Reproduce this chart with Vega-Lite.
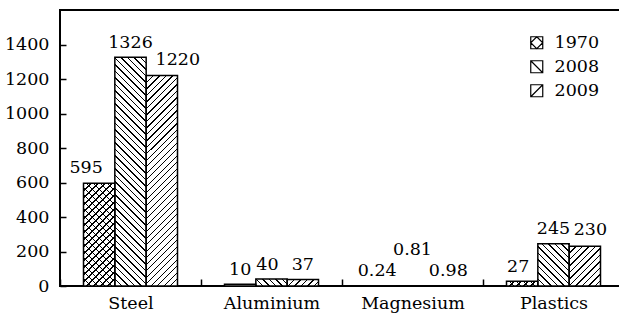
{
"$schema":"https://vega.github.io/schema/vega-lite/v6.json",
"width":564,"height":276,
"autosize":{"type":"none"},
"padding":{"left":60,"top":10,"right":0,"bottom":28},
"background":"white",
"config":{"view":{"stroke":"black","strokeWidth":2},"font":"'DejaVu Serif', 'Liberation Serif', 'Times New Roman', serif"},
"data":{"values":[
{"cat":"Steel","year":"1970","value":595},
{"cat":"Steel","year":"2008","value":1326},
{"cat":"Steel","year":"2009","value":1220},
{"cat":"Aluminium","year":"1970","value":10},
{"cat":"Aluminium","year":"2008","value":40},
{"cat":"Aluminium","year":"2009","value":37},
{"cat":"Magnesium","year":"1970","value":0.24},
{"cat":"Magnesium","year":"2008","value":0.81},
{"cat":"Magnesium","year":"2009","value":0.98},
{"cat":"Plastics","year":"1970","value":27},
{"cat":"Plastics","year":"2008","value":245},
{"cat":"Plastics","year":"2009","value":230}
]},
"encoding":{
"x":{"field":"cat","type":"nominal","sort":["Steel","Aluminium","Magnesium","Plastics"],"scale":{"paddingInner":0,"paddingOuter":0},
"axis":{"title":null,"domain":false,"labelAngle":0,"tickBand":"extent","tickSize":-7,"tickWidth":1.5,"tickColor":"black","labelPadding":15,"labelFont":"'DejaVu Serif', 'Liberation Serif', 'Times New Roman', serif","labelFontSize":17.5,"labelColor":"black"}},
"xOffset":{"field":"year","type":"nominal","scale":{"domain":["1970","2008","2009"],"paddingInner":0,"paddingOuter":0.75}},
"y":{"field":"value","type":"quantitative","scale":{"domain":[0,1600],"nice":false},
"axis":{"title":null,"grid":false,"domain":false,"format":"d","values":[0,200,400,600,800,1000,1200,1400],"tickSize":-6,"tickWidth":1.5,"tickColor":"black","labelPadding":17,"labelFont":"'DejaVu Serif', 'Liberation Serif', 'Times New Roman', serif","labelFontSize":17.5,"labelColor":"black"}}
},
"layer":[
{"mark":{"type":"bar","fill":"white"}},
{"transform":[{"filter":"datum.cat=='Steel' && datum.year=='2008'"}],
"mark":{"type":"bar","fill":{"gradient":"linear","x1":0,"y1":1,"x2":0.1529,"y2":-0.1159,"stops":[
{"offset":0,"color":"#000"},{"offset":0.005,"color":"#000"},{"offset":0.005,"color":"#fff"},{"offset":0.025,"color":"#fff"},
{"offset":0.025,"color":"#000"},{"offset":0.03,"color":"#000"},{"offset":0.03,"color":"#fff"},{"offset":0.05,"color":"#fff"},
{"offset":0.05,"color":"#000"},{"offset":0.055,"color":"#000"},{"offset":0.055,"color":"#fff"},{"offset":0.075,"color":"#fff"},
{"offset":0.075,"color":"#000"},{"offset":0.08,"color":"#000"},{"offset":0.08,"color":"#fff"},{"offset":0.1,"color":"#fff"},
{"offset":0.1,"color":"#000"},{"offset":0.105,"color":"#000"},{"offset":0.105,"color":"#fff"},{"offset":0.125,"color":"#fff"},
{"offset":0.125,"color":"#000"},{"offset":0.13,"color":"#000"},{"offset":0.13,"color":"#fff"},{"offset":0.15,"color":"#fff"},
{"offset":0.15,"color":"#000"},{"offset":0.155,"color":"#000"},{"offset":0.155,"color":"#fff"},{"offset":0.175,"color":"#fff"},
{"offset":0.175,"color":"#000"},{"offset":0.18,"color":"#000"},{"offset":0.18,"color":"#fff"},{"offset":0.2,"color":"#fff"},
{"offset":0.2,"color":"#000"},{"offset":0.205,"color":"#000"},{"offset":0.205,"color":"#fff"},{"offset":0.225,"color":"#fff"},
{"offset":0.225,"color":"#000"},{"offset":0.23,"color":"#000"},{"offset":0.23,"color":"#fff"},{"offset":0.25,"color":"#fff"},
{"offset":0.25,"color":"#000"},{"offset":0.255,"color":"#000"},{"offset":0.255,"color":"#fff"},{"offset":0.275,"color":"#fff"},
{"offset":0.275,"color":"#000"},{"offset":0.28,"color":"#000"},{"offset":0.28,"color":"#fff"},{"offset":0.3,"color":"#fff"},
{"offset":0.3,"color":"#000"},{"offset":0.305,"color":"#000"},{"offset":0.305,"color":"#fff"},{"offset":0.325,"color":"#fff"},
{"offset":0.325,"color":"#000"},{"offset":0.33,"color":"#000"},{"offset":0.33,"color":"#fff"},{"offset":0.35,"color":"#fff"},
{"offset":0.35,"color":"#000"},{"offset":0.355,"color":"#000"},{"offset":0.355,"color":"#fff"},{"offset":0.375,"color":"#fff"},
{"offset":0.375,"color":"#000"},{"offset":0.38,"color":"#000"},{"offset":0.38,"color":"#fff"},{"offset":0.4,"color":"#fff"},
{"offset":0.4,"color":"#000"},{"offset":0.405,"color":"#000"},{"offset":0.405,"color":"#fff"},{"offset":0.425,"color":"#fff"},
{"offset":0.425,"color":"#000"},{"offset":0.43,"color":"#000"},{"offset":0.43,"color":"#fff"},{"offset":0.45,"color":"#fff"},
{"offset":0.45,"color":"#000"},{"offset":0.455,"color":"#000"},{"offset":0.455,"color":"#fff"},{"offset":0.475,"color":"#fff"},
{"offset":0.475,"color":"#000"},{"offset":0.48,"color":"#000"},{"offset":0.48,"color":"#fff"},{"offset":0.5,"color":"#fff"},
{"offset":0.5,"color":"#000"},{"offset":0.505,"color":"#000"},{"offset":0.505,"color":"#fff"},{"offset":0.525,"color":"#fff"},
{"offset":0.525,"color":"#000"},{"offset":0.53,"color":"#000"},{"offset":0.53,"color":"#fff"},{"offset":0.55,"color":"#fff"},
{"offset":0.55,"color":"#000"},{"offset":0.555,"color":"#000"},{"offset":0.555,"color":"#fff"},{"offset":0.575,"color":"#fff"},
{"offset":0.575,"color":"#000"},{"offset":0.58,"color":"#000"},{"offset":0.58,"color":"#fff"},{"offset":0.6,"color":"#fff"},
{"offset":0.6,"color":"#000"},{"offset":0.605,"color":"#000"},{"offset":0.605,"color":"#fff"},{"offset":0.625,"color":"#fff"},
{"offset":0.625,"color":"#000"},{"offset":0.63,"color":"#000"},{"offset":0.63,"color":"#fff"},{"offset":0.65,"color":"#fff"},
{"offset":0.65,"color":"#000"},{"offset":0.655,"color":"#000"},{"offset":0.655,"color":"#fff"},{"offset":0.675,"color":"#fff"},
{"offset":0.675,"color":"#000"},{"offset":0.68,"color":"#000"},{"offset":0.68,"color":"#fff"},{"offset":0.7,"color":"#fff"},
{"offset":0.7,"color":"#000"},{"offset":0.705,"color":"#000"},{"offset":0.705,"color":"#fff"},{"offset":0.725,"color":"#fff"},
{"offset":0.725,"color":"#000"},{"offset":0.73,"color":"#000"},{"offset":0.73,"color":"#fff"},{"offset":0.75,"color":"#fff"},
{"offset":0.75,"color":"#000"},{"offset":0.755,"color":"#000"},{"offset":0.755,"color":"#fff"},{"offset":0.775,"color":"#fff"},
{"offset":0.775,"color":"#000"},{"offset":0.78,"color":"#000"},{"offset":0.78,"color":"#fff"},{"offset":0.8,"color":"#fff"},
{"offset":0.8,"color":"#000"},{"offset":0.805,"color":"#000"},{"offset":0.805,"color":"#fff"},{"offset":0.825,"color":"#fff"},
{"offset":0.825,"color":"#000"},{"offset":0.83,"color":"#000"},{"offset":0.83,"color":"#fff"},{"offset":0.85,"color":"#fff"},
{"offset":0.85,"color":"#000"},{"offset":0.855,"color":"#000"},{"offset":0.855,"color":"#fff"},{"offset":0.875,"color":"#fff"},
{"offset":0.875,"color":"#000"},{"offset":0.88,"color":"#000"},{"offset":0.88,"color":"#fff"},{"offset":0.9,"color":"#fff"},
{"offset":0.9,"color":"#000"},{"offset":0.905,"color":"#000"},{"offset":0.905,"color":"#fff"},{"offset":0.925,"color":"#fff"},
{"offset":0.925,"color":"#000"},{"offset":0.93,"color":"#000"},{"offset":0.93,"color":"#fff"},{"offset":0.95,"color":"#fff"},
{"offset":0.95,"color":"#000"},{"offset":0.955,"color":"#000"},{"offset":0.955,"color":"#fff"},{"offset":0.975,"color":"#fff"},
{"offset":0.975,"color":"#000"},{"offset":0.98,"color":"#000"},{"offset":0.98,"color":"#fff"},{"offset":1,"color":"#fff"}
]}}},
{"transform":[{"filter":"datum.cat=='Steel' && datum.year=='2009'"}],
"mark":{"type":"bar","fill":{"gradient":"linear","x1":0,"y1":0,"x2":0.1799,"y2":1.2084,"stops":[
{"offset":0,"color":"#000"},{"offset":0.005,"color":"#000"},{"offset":0.005,"color":"#fff"},{"offset":0.025,"color":"#fff"},
{"offset":0.025,"color":"#000"},{"offset":0.03,"color":"#000"},{"offset":0.03,"color":"#fff"},{"offset":0.05,"color":"#fff"},
{"offset":0.05,"color":"#000"},{"offset":0.055,"color":"#000"},{"offset":0.055,"color":"#fff"},{"offset":0.075,"color":"#fff"},
{"offset":0.075,"color":"#000"},{"offset":0.08,"color":"#000"},{"offset":0.08,"color":"#fff"},{"offset":0.1,"color":"#fff"},
{"offset":0.1,"color":"#000"},{"offset":0.105,"color":"#000"},{"offset":0.105,"color":"#fff"},{"offset":0.125,"color":"#fff"},
{"offset":0.125,"color":"#000"},{"offset":0.13,"color":"#000"},{"offset":0.13,"color":"#fff"},{"offset":0.15,"color":"#fff"},
{"offset":0.15,"color":"#000"},{"offset":0.155,"color":"#000"},{"offset":0.155,"color":"#fff"},{"offset":0.175,"color":"#fff"},
{"offset":0.175,"color":"#000"},{"offset":0.18,"color":"#000"},{"offset":0.18,"color":"#fff"},{"offset":0.2,"color":"#fff"},
{"offset":0.2,"color":"#000"},{"offset":0.205,"color":"#000"},{"offset":0.205,"color":"#fff"},{"offset":0.225,"color":"#fff"},
{"offset":0.225,"color":"#000"},{"offset":0.23,"color":"#000"},{"offset":0.23,"color":"#fff"},{"offset":0.25,"color":"#fff"},
{"offset":0.25,"color":"#000"},{"offset":0.255,"color":"#000"},{"offset":0.255,"color":"#fff"},{"offset":0.275,"color":"#fff"},
{"offset":0.275,"color":"#000"},{"offset":0.28,"color":"#000"},{"offset":0.28,"color":"#fff"},{"offset":0.3,"color":"#fff"},
{"offset":0.3,"color":"#000"},{"offset":0.305,"color":"#000"},{"offset":0.305,"color":"#fff"},{"offset":0.325,"color":"#fff"},
{"offset":0.325,"color":"#000"},{"offset":0.33,"color":"#000"},{"offset":0.33,"color":"#fff"},{"offset":0.35,"color":"#fff"},
{"offset":0.35,"color":"#000"},{"offset":0.355,"color":"#000"},{"offset":0.355,"color":"#fff"},{"offset":0.375,"color":"#fff"},
{"offset":0.375,"color":"#000"},{"offset":0.38,"color":"#000"},{"offset":0.38,"color":"#fff"},{"offset":0.4,"color":"#fff"},
{"offset":0.4,"color":"#000"},{"offset":0.405,"color":"#000"},{"offset":0.405,"color":"#fff"},{"offset":0.425,"color":"#fff"},
{"offset":0.425,"color":"#000"},{"offset":0.43,"color":"#000"},{"offset":0.43,"color":"#fff"},{"offset":0.45,"color":"#fff"},
{"offset":0.45,"color":"#000"},{"offset":0.455,"color":"#000"},{"offset":0.455,"color":"#fff"},{"offset":0.475,"color":"#fff"},
{"offset":0.475,"color":"#000"},{"offset":0.48,"color":"#000"},{"offset":0.48,"color":"#fff"},{"offset":0.5,"color":"#fff"},
{"offset":0.5,"color":"#000"},{"offset":0.505,"color":"#000"},{"offset":0.505,"color":"#fff"},{"offset":0.525,"color":"#fff"},
{"offset":0.525,"color":"#000"},{"offset":0.53,"color":"#000"},{"offset":0.53,"color":"#fff"},{"offset":0.55,"color":"#fff"},
{"offset":0.55,"color":"#000"},{"offset":0.555,"color":"#000"},{"offset":0.555,"color":"#fff"},{"offset":0.575,"color":"#fff"},
{"offset":0.575,"color":"#000"},{"offset":0.58,"color":"#000"},{"offset":0.58,"color":"#fff"},{"offset":0.6,"color":"#fff"},
{"offset":0.6,"color":"#000"},{"offset":0.605,"color":"#000"},{"offset":0.605,"color":"#fff"},{"offset":0.625,"color":"#fff"},
{"offset":0.625,"color":"#000"},{"offset":0.63,"color":"#000"},{"offset":0.63,"color":"#fff"},{"offset":0.65,"color":"#fff"},
{"offset":0.65,"color":"#000"},{"offset":0.655,"color":"#000"},{"offset":0.655,"color":"#fff"},{"offset":0.675,"color":"#fff"},
{"offset":0.675,"color":"#000"},{"offset":0.68,"color":"#000"},{"offset":0.68,"color":"#fff"},{"offset":0.7,"color":"#fff"},
{"offset":0.7,"color":"#000"},{"offset":0.705,"color":"#000"},{"offset":0.705,"color":"#fff"},{"offset":0.725,"color":"#fff"},
{"offset":0.725,"color":"#000"},{"offset":0.73,"color":"#000"},{"offset":0.73,"color":"#fff"},{"offset":0.75,"color":"#fff"},
{"offset":0.75,"color":"#000"},{"offset":0.755,"color":"#000"},{"offset":0.755,"color":"#fff"},{"offset":0.775,"color":"#fff"},
{"offset":0.775,"color":"#000"},{"offset":0.78,"color":"#000"},{"offset":0.78,"color":"#fff"},{"offset":0.8,"color":"#fff"},
{"offset":0.8,"color":"#000"},{"offset":0.805,"color":"#000"},{"offset":0.805,"color":"#fff"},{"offset":0.825,"color":"#fff"},
{"offset":0.825,"color":"#000"},{"offset":0.83,"color":"#000"},{"offset":0.83,"color":"#fff"},{"offset":0.85,"color":"#fff"},
{"offset":0.85,"color":"#000"},{"offset":0.855,"color":"#000"},{"offset":0.855,"color":"#fff"},{"offset":0.875,"color":"#fff"},
{"offset":0.875,"color":"#000"},{"offset":0.88,"color":"#000"},{"offset":0.88,"color":"#fff"},{"offset":0.9,"color":"#fff"},
{"offset":0.9,"color":"#000"},{"offset":0.905,"color":"#000"},{"offset":0.905,"color":"#fff"},{"offset":0.925,"color":"#fff"},
{"offset":0.925,"color":"#000"},{"offset":0.93,"color":"#000"},{"offset":0.93,"color":"#fff"},{"offset":0.95,"color":"#fff"}
]}}},
{"transform":[{"filter":"datum.cat=='Steel' && datum.year=='1970'"}],
"mark":{"type":"bar","fill":{"gradient":"linear","x1":0,"y1":1,"x2":0.7623,"y2":-1.4963,"stops":[
{"offset":0,"color":"#000"},{"offset":0.005,"color":"#000"},{"offset":0.005,"color":"#0000"},{"offset":0.025,"color":"#0000"},
{"offset":0.025,"color":"#000"},{"offset":0.03,"color":"#000"},{"offset":0.03,"color":"#0000"},{"offset":0.05,"color":"#0000"},
{"offset":0.05,"color":"#000"},{"offset":0.055,"color":"#000"},{"offset":0.055,"color":"#0000"},{"offset":0.075,"color":"#0000"},
{"offset":0.075,"color":"#000"},{"offset":0.08,"color":"#000"},{"offset":0.08,"color":"#0000"},{"offset":0.1,"color":"#0000"},
{"offset":0.1,"color":"#000"},{"offset":0.105,"color":"#000"},{"offset":0.105,"color":"#0000"},{"offset":0.125,"color":"#0000"},
{"offset":0.125,"color":"#000"},{"offset":0.13,"color":"#000"},{"offset":0.13,"color":"#0000"},{"offset":0.15,"color":"#0000"},
{"offset":0.15,"color":"#000"},{"offset":0.155,"color":"#000"},{"offset":0.155,"color":"#0000"},{"offset":0.175,"color":"#0000"},
{"offset":0.175,"color":"#000"},{"offset":0.18,"color":"#000"},{"offset":0.18,"color":"#0000"},{"offset":0.2,"color":"#0000"},
{"offset":0.2,"color":"#000"},{"offset":0.205,"color":"#000"},{"offset":0.205,"color":"#0000"},{"offset":0.225,"color":"#0000"},
{"offset":0.225,"color":"#000"},{"offset":0.23,"color":"#000"},{"offset":0.23,"color":"#0000"},{"offset":0.25,"color":"#0000"},
{"offset":0.25,"color":"#000"},{"offset":0.255,"color":"#000"},{"offset":0.255,"color":"#0000"},{"offset":0.275,"color":"#0000"},
{"offset":0.275,"color":"#000"},{"offset":0.28,"color":"#000"},{"offset":0.28,"color":"#0000"},{"offset":0.3,"color":"#0000"},
{"offset":0.3,"color":"#000"},{"offset":0.305,"color":"#000"},{"offset":0.305,"color":"#0000"},{"offset":0.325,"color":"#0000"},
{"offset":0.325,"color":"#000"},{"offset":0.33,"color":"#000"},{"offset":0.33,"color":"#0000"},{"offset":0.35,"color":"#0000"},
{"offset":0.35,"color":"#000"},{"offset":0.355,"color":"#000"},{"offset":0.355,"color":"#0000"},{"offset":0.375,"color":"#0000"},
{"offset":0.375,"color":"#000"},{"offset":0.38,"color":"#000"},{"offset":0.38,"color":"#0000"},{"offset":0.4,"color":"#0000"},
{"offset":0.4,"color":"#000"},{"offset":0.405,"color":"#000"},{"offset":0.405,"color":"#0000"},{"offset":0.425,"color":"#0000"},
{"offset":0.425,"color":"#000"},{"offset":0.43,"color":"#000"},{"offset":0.43,"color":"#0000"},{"offset":0.45,"color":"#0000"},
{"offset":0.45,"color":"#000"},{"offset":0.455,"color":"#000"},{"offset":0.455,"color":"#0000"},{"offset":0.475,"color":"#0000"},
{"offset":0.475,"color":"#000"},{"offset":0.48,"color":"#000"},{"offset":0.48,"color":"#0000"},{"offset":0.5,"color":"#0000"}
]}}},
{"transform":[{"filter":"datum.cat=='Steel' && datum.year=='1970'"}],
"mark":{"type":"bar","fill":{"gradient":"linear","x1":0,"y1":0,"x2":0.7623,"y2":2.4963,"stops":[
{"offset":0,"color":"#000"},{"offset":0.005,"color":"#000"},{"offset":0.005,"color":"#0000"},{"offset":0.025,"color":"#0000"},
{"offset":0.025,"color":"#000"},{"offset":0.03,"color":"#000"},{"offset":0.03,"color":"#0000"},{"offset":0.05,"color":"#0000"},
{"offset":0.05,"color":"#000"},{"offset":0.055,"color":"#000"},{"offset":0.055,"color":"#0000"},{"offset":0.075,"color":"#0000"},
{"offset":0.075,"color":"#000"},{"offset":0.08,"color":"#000"},{"offset":0.08,"color":"#0000"},{"offset":0.1,"color":"#0000"},
{"offset":0.1,"color":"#000"},{"offset":0.105,"color":"#000"},{"offset":0.105,"color":"#0000"},{"offset":0.125,"color":"#0000"},
{"offset":0.125,"color":"#000"},{"offset":0.13,"color":"#000"},{"offset":0.13,"color":"#0000"},{"offset":0.15,"color":"#0000"},
{"offset":0.15,"color":"#000"},{"offset":0.155,"color":"#000"},{"offset":0.155,"color":"#0000"},{"offset":0.175,"color":"#0000"},
{"offset":0.175,"color":"#000"},{"offset":0.18,"color":"#000"},{"offset":0.18,"color":"#0000"},{"offset":0.2,"color":"#0000"},
{"offset":0.2,"color":"#000"},{"offset":0.205,"color":"#000"},{"offset":0.205,"color":"#0000"},{"offset":0.225,"color":"#0000"},
{"offset":0.225,"color":"#000"},{"offset":0.23,"color":"#000"},{"offset":0.23,"color":"#0000"},{"offset":0.25,"color":"#0000"},
{"offset":0.25,"color":"#000"},{"offset":0.255,"color":"#000"},{"offset":0.255,"color":"#0000"},{"offset":0.275,"color":"#0000"},
{"offset":0.275,"color":"#000"},{"offset":0.28,"color":"#000"},{"offset":0.28,"color":"#0000"},{"offset":0.3,"color":"#0000"},
{"offset":0.3,"color":"#000"},{"offset":0.305,"color":"#000"},{"offset":0.305,"color":"#0000"},{"offset":0.325,"color":"#0000"},
{"offset":0.325,"color":"#000"},{"offset":0.33,"color":"#000"},{"offset":0.33,"color":"#0000"},{"offset":0.35,"color":"#0000"},
{"offset":0.35,"color":"#000"},{"offset":0.355,"color":"#000"},{"offset":0.355,"color":"#0000"},{"offset":0.375,"color":"#0000"},
{"offset":0.375,"color":"#000"},{"offset":0.38,"color":"#000"},{"offset":0.38,"color":"#0000"},{"offset":0.4,"color":"#0000"},
{"offset":0.4,"color":"#000"},{"offset":0.405,"color":"#000"},{"offset":0.405,"color":"#0000"},{"offset":0.425,"color":"#0000"},
{"offset":0.425,"color":"#000"},{"offset":0.43,"color":"#000"},{"offset":0.43,"color":"#0000"},{"offset":0.45,"color":"#0000"},
{"offset":0.45,"color":"#000"},{"offset":0.455,"color":"#000"},{"offset":0.455,"color":"#0000"},{"offset":0.475,"color":"#0000"},
{"offset":0.475,"color":"#000"},{"offset":0.48,"color":"#000"},{"offset":0.48,"color":"#0000"},{"offset":0.5,"color":"#0000"}
]}}},
{"transform":[{"filter":"datum.cat=='Plastics' && datum.year=='2008'"}],
"mark":{"type":"bar","fill":{"gradient":"linear","x1":0,"y1":1,"x2":2.943,"y2":-2.970,"stops":[
{"offset":0,"color":"#000"},{"offset":0.005,"color":"#000"},{"offset":0.005,"color":"#fff"},{"offset":0.025,"color":"#fff"},
{"offset":0.025,"color":"#000"},{"offset":0.03,"color":"#000"},{"offset":0.03,"color":"#fff"},{"offset":0.05,"color":"#fff"},
{"offset":0.05,"color":"#000"},{"offset":0.055,"color":"#000"},{"offset":0.055,"color":"#fff"},{"offset":0.075,"color":"#fff"},
{"offset":0.075,"color":"#000"},{"offset":0.08,"color":"#000"},{"offset":0.08,"color":"#fff"},{"offset":0.1,"color":"#fff"},
{"offset":0.1,"color":"#000"},{"offset":0.105,"color":"#000"},{"offset":0.105,"color":"#fff"},{"offset":0.125,"color":"#fff"},
{"offset":0.125,"color":"#000"},{"offset":0.13,"color":"#000"},{"offset":0.13,"color":"#fff"},{"offset":0.15,"color":"#fff"},
{"offset":0.15,"color":"#000"},{"offset":0.155,"color":"#000"},{"offset":0.155,"color":"#fff"},{"offset":0.175,"color":"#fff"},
{"offset":0.175,"color":"#000"},{"offset":0.18,"color":"#000"},{"offset":0.18,"color":"#fff"},{"offset":0.2,"color":"#fff"},
{"offset":0.2,"color":"#000"},{"offset":0.205,"color":"#000"},{"offset":0.205,"color":"#fff"},{"offset":0.225,"color":"#fff"},
{"offset":0.225,"color":"#000"},{"offset":0.23,"color":"#000"},{"offset":0.23,"color":"#fff"},{"offset":0.25,"color":"#fff"},
{"offset":0.25,"color":"#000"},{"offset":0.255,"color":"#000"},{"offset":0.255,"color":"#fff"},{"offset":0.275,"color":"#fff"},
{"offset":0.275,"color":"#000"},{"offset":0.28,"color":"#000"},{"offset":0.28,"color":"#fff"},{"offset":0.3,"color":"#fff"}
]}}},
{"transform":[{"filter":"datum.cat=='Plastics' && datum.year=='2009'"}],
"mark":{"type":"bar","fill":{"gradient":"linear","x1":0,"y1":0,"x2":3.187,"y2":4.036,"stops":[
{"offset":0,"color":"#000"},{"offset":0.005,"color":"#000"},{"offset":0.005,"color":"#fff"},{"offset":0.025,"color":"#fff"},
{"offset":0.025,"color":"#000"},{"offset":0.03,"color":"#000"},{"offset":0.03,"color":"#fff"},{"offset":0.05,"color":"#fff"},
{"offset":0.05,"color":"#000"},{"offset":0.055,"color":"#000"},{"offset":0.055,"color":"#fff"},{"offset":0.075,"color":"#fff"},
{"offset":0.075,"color":"#000"},{"offset":0.08,"color":"#000"},{"offset":0.08,"color":"#fff"},{"offset":0.1,"color":"#fff"},
{"offset":0.1,"color":"#000"},{"offset":0.105,"color":"#000"},{"offset":0.105,"color":"#fff"},{"offset":0.125,"color":"#fff"},
{"offset":0.125,"color":"#000"},{"offset":0.13,"color":"#000"},{"offset":0.13,"color":"#fff"},{"offset":0.15,"color":"#fff"},
{"offset":0.15,"color":"#000"},{"offset":0.155,"color":"#000"},{"offset":0.155,"color":"#fff"},{"offset":0.175,"color":"#fff"},
{"offset":0.175,"color":"#000"},{"offset":0.18,"color":"#000"},{"offset":0.18,"color":"#fff"},{"offset":0.2,"color":"#fff"},
{"offset":0.2,"color":"#000"},{"offset":0.205,"color":"#000"},{"offset":0.205,"color":"#fff"},{"offset":0.225,"color":"#fff"},
{"offset":0.225,"color":"#000"},{"offset":0.23,"color":"#000"},{"offset":0.23,"color":"#fff"},{"offset":0.25,"color":"#fff"},
{"offset":0.25,"color":"#000"},{"offset":0.255,"color":"#000"},{"offset":0.255,"color":"#fff"},{"offset":0.275,"color":"#fff"}
]}}},
{"transform":[{"filter":"datum.cat=='Aluminium' && datum.year=='2008'"}],
"mark":{"type":"bar","fill":{"gradient":"linear","x1":0,"y1":1,"x2":7.915,"y2":-0.743,"stops":[
{"offset":0,"color":"#000"},{"offset":0.005,"color":"#000"},{"offset":0.005,"color":"#fff"},{"offset":0.025,"color":"#fff"},
{"offset":0.025,"color":"#000"},{"offset":0.03,"color":"#000"},{"offset":0.03,"color":"#fff"},{"offset":0.05,"color":"#fff"},
{"offset":0.05,"color":"#000"},{"offset":0.055,"color":"#000"},{"offset":0.055,"color":"#fff"},{"offset":0.075,"color":"#fff"},
{"offset":0.075,"color":"#000"},{"offset":0.08,"color":"#000"},{"offset":0.08,"color":"#fff"},{"offset":0.1,"color":"#fff"},
{"offset":0.1,"color":"#000"},{"offset":0.105,"color":"#000"},{"offset":0.105,"color":"#fff"},{"offset":0.125,"color":"#fff"},
{"offset":0.125,"color":"#000"},{"offset":0.13,"color":"#000"},{"offset":0.13,"color":"#fff"},{"offset":0.15,"color":"#fff"}
]}}},
{"transform":[{"filter":"datum.cat=='Aluminium' && datum.year=='2009'"}],
"mark":{"type":"bar","fill":{"gradient":"linear","x1":0,"y1":0,"x2":7.968,"y2":1.623,"stops":[
{"offset":0,"color":"#000"},{"offset":0.005,"color":"#000"},{"offset":0.005,"color":"#fff"},{"offset":0.025,"color":"#fff"},
{"offset":0.025,"color":"#000"},{"offset":0.03,"color":"#000"},{"offset":0.03,"color":"#fff"},{"offset":0.05,"color":"#fff"},
{"offset":0.05,"color":"#000"},{"offset":0.055,"color":"#000"},{"offset":0.055,"color":"#fff"},{"offset":0.075,"color":"#fff"},
{"offset":0.075,"color":"#000"},{"offset":0.08,"color":"#000"},{"offset":0.08,"color":"#fff"},{"offset":0.1,"color":"#fff"},
{"offset":0.1,"color":"#000"},{"offset":0.105,"color":"#000"},{"offset":0.105,"color":"#fff"},{"offset":0.125,"color":"#fff"},
{"offset":0.125,"color":"#000"},{"offset":0.13,"color":"#000"},{"offset":0.13,"color":"#fff"},{"offset":0.15,"color":"#fff"}
]}}},
{"transform":[{"filter":"datum.cat=='Plastics' && datum.year=='1970'"}],
"mark":{"type":"bar","fill":{"gradient":"linear","x1":0,"y1":1,"x2":8.744,"y2":-0.3005,"stops":[
{"offset":0,"color":"#000"},{"offset":0.005,"color":"#000"},{"offset":0.005,"color":"#0000"},{"offset":0.025,"color":"#0000"},
{"offset":0.025,"color":"#000"},{"offset":0.03,"color":"#000"},{"offset":0.03,"color":"#0000"},{"offset":0.05,"color":"#0000"},
{"offset":0.05,"color":"#000"},{"offset":0.055,"color":"#000"},{"offset":0.055,"color":"#0000"},{"offset":0.075,"color":"#0000"},
{"offset":0.075,"color":"#000"},{"offset":0.08,"color":"#000"},{"offset":0.08,"color":"#0000"},{"offset":0.1,"color":"#0000"},
{"offset":0.1,"color":"#000"},{"offset":0.105,"color":"#000"},{"offset":0.105,"color":"#0000"},{"offset":0.125,"color":"#0000"},
{"offset":0.125,"color":"#000"},{"offset":0.13,"color":"#000"},{"offset":0.13,"color":"#0000"},{"offset":0.15,"color":"#0000"}
]}}},
{"transform":[{"filter":"datum.cat=='Plastics' && datum.year=='1970'"}],
"mark":{"type":"bar","fill":{"gradient":"linear","x1":0,"y1":0,"x2":8.744,"y2":1.3005,"stops":[
{"offset":0,"color":"#000"},{"offset":0.005,"color":"#000"},{"offset":0.005,"color":"#0000"},{"offset":0.025,"color":"#0000"},
{"offset":0.025,"color":"#000"},{"offset":0.03,"color":"#000"},{"offset":0.03,"color":"#0000"},{"offset":0.05,"color":"#0000"},
{"offset":0.05,"color":"#000"},{"offset":0.055,"color":"#000"},{"offset":0.055,"color":"#0000"},{"offset":0.075,"color":"#0000"},
{"offset":0.075,"color":"#000"},{"offset":0.08,"color":"#000"},{"offset":0.08,"color":"#0000"},{"offset":0.1,"color":"#0000"},
{"offset":0.1,"color":"#000"},{"offset":0.105,"color":"#000"},{"offset":0.105,"color":"#0000"},{"offset":0.125,"color":"#0000"},
{"offset":0.125,"color":"#000"},{"offset":0.13,"color":"#000"},{"offset":0.13,"color":"#0000"},{"offset":0.15,"color":"#0000"}
]}}},
{"mark":{"type":"bar","filled":false,"color":"black","strokeWidth":1.5}},
{"transform":[{"filter":"(datum.cat=='Steel' && datum.year=='2008') || (datum.cat=='Aluminium' && datum.year!='2008') || (datum.cat=='Plastics' && datum.year=='2008')"}],
"mark":{"type":"text","fontSize":17.5,"color":"black","baseline":"alphabetic","dy":-9.5},
"encoding":{"text":{"field":"value","type":"quantitative","format":"~g"}}},
{"transform":[{"filter":"datum.cat=='Steel' && datum.year=='1970'"}],
"mark":{"type":"text","fontSize":17.5,"color":"black","baseline":"alphabetic","dy":-10,"dx":-13},
"encoding":{"text":{"field":"value","type":"quantitative","format":"~g"}}},
{"transform":[{"filter":"datum.cat=='Steel' && datum.year=='2009'"}],
"mark":{"type":"text","fontSize":17.5,"color":"black","baseline":"alphabetic","dy":-10.5,"dx":16},
"encoding":{"text":{"field":"value","type":"quantitative","format":"~g"}}},
{"transform":[{"filter":"(datum.cat=='Plastics' && datum.year=='1970') || (datum.cat=='Aluminium' && datum.year=='2008') || (datum.cat=='Magnesium' && datum.year=='1970')"}],
"mark":{"type":"text","fontSize":17.5,"color":"black","baseline":"alphabetic","dy":-9.5,"dx":-4},
"encoding":{"text":{"field":"value","type":"quantitative","format":"~g"}}},
{"transform":[{"filter":"datum.cat=='Magnesium' && datum.year=='2009'"}],
"mark":{"type":"text","fontSize":17.5,"color":"black","baseline":"alphabetic","dy":-9.5,"dx":4.5},
"encoding":{"text":{"field":"value","type":"quantitative","format":"~g"}}},
{"transform":[{"filter":"datum.cat=='Plastics' && datum.year=='2009'"}],
"mark":{"type":"text","fontSize":17.5,"color":"black","baseline":"alphabetic","dy":-11.3,"dx":5.5},
"encoding":{"text":{"field":"value","type":"quantitative","format":"~g"}}},
{"transform":[{"filter":"datum.cat=='Magnesium' && datum.year=='2008'"}],
"mark":{"type":"text","fontSize":17.5,"color":"black","baseline":"alphabetic","dy":-31},
"encoding":{"text":{"field":"value","type":"quantitative","format":"~g"}}},
{"mark":{"type":"point","opacity":0,"filled":false},
"encoding":{"shape":{"field":"year","type":"nominal",
"scale":{"domain":["1970","2008","2009"],"range":["M-1,-1H1V1H-1Z M0,-1L1,0L0,1L-1,0Z","M-1,-1H1V1H-1Z M-1,-1L1,1","M-1,-1H1V1H-1Z M-1,1L1,-1"]},
"legend":{"title":null,"orient":"none","legendX":468,"legendY":24,"labelFont":"'DejaVu Serif', 'Liberation Serif', 'Times New Roman', serif","labelFontSize":17.5,"labelColor":"black","symbolSize":144,"symbolStrokeColor":"black","symbolFillColor":"white","symbolStrokeWidth":1.2,"symbolOpacity":1,"rowPadding":5,"labelOffset":9,"padding":0}}}}
]
}
